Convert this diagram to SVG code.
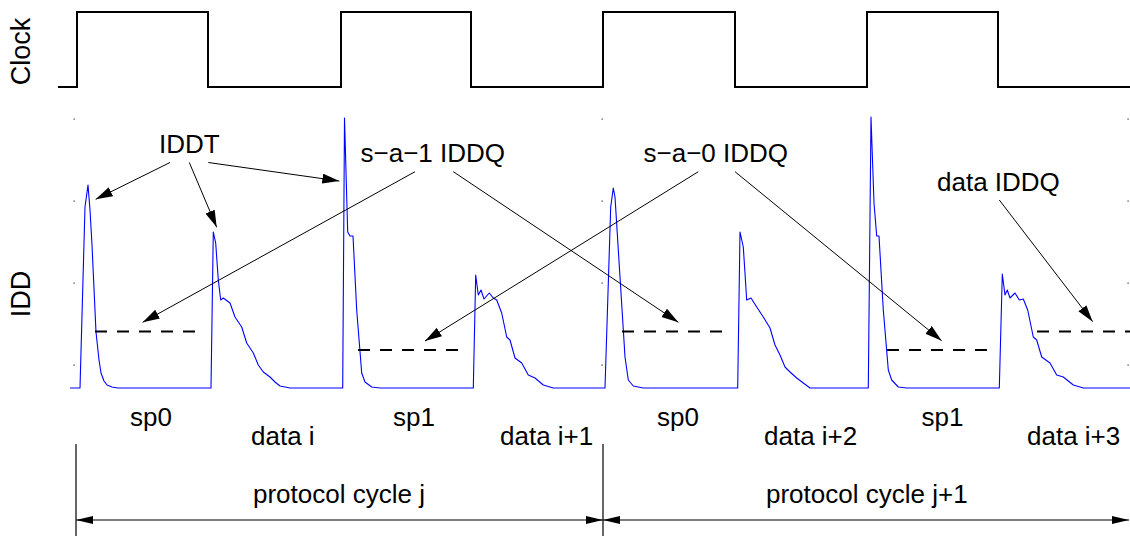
<svg xmlns="http://www.w3.org/2000/svg" width="1130" height="536" viewBox="0 0 1130 536">
<style>
  .t { font-family: "Liberation Sans", Arial, Helvetica, sans-serif; font-size: 26px; fill: #000; }
  .rot { font-family: "Liberation Sans", Arial, Helvetica, sans-serif; font-size: 27px; fill: #000; text-anchor: middle; }
  .clk { fill: none; stroke: #000; stroke-width: 2; }
  .wave { fill: none; stroke: #0000ff; stroke-width: 1.1; stroke-linejoin: round; }
  .lvl { fill: none; stroke: #000; stroke-width: 2; stroke-dasharray: 12 10; }
  .ann { fill: none; stroke: #000; stroke-width: 1; }
  .dim { fill: none; stroke: #000; stroke-width: 1.2; }
  .tick { fill: #333; }
</style>
<defs>
  <marker id="ah" markerUnits="userSpaceOnUse" markerWidth="18" markerHeight="11" refX="17" refY="5" orient="auto">
    <path d="M0,0 L17,5 L0,10 z" fill="#000"/>
  </marker>
  <marker id="dh" markerUnits="userSpaceOnUse" markerWidth="18" markerHeight="9" refX="17" refY="4" orient="auto">
    <path d="M0,0 L17,4 L0,8 z" fill="#000"/>
  </marker>
  <marker id="dhs" markerUnits="userSpaceOnUse" markerWidth="18" markerHeight="9" refX="0" refY="4" orient="auto">
    <path d="M17,0 L0,4 L17,8 z" fill="#000"/>
  </marker>
</defs>

<g id="axis-labels">
  <text class="rot" transform="translate(30,51.5) rotate(-90)">Clock</text>
  <text class="rot" transform="translate(29.5,294) rotate(-90)">IDD</text>
</g>

<g id="clock">
  <path class="clk" d="M58,87 H77 V12 H208 V87 H341 V12 H471 V87 H603 V12 H735 V87 H867 V12 H998 V87 H1130"/>
</g>

<g id="ticks">
  <rect class="tick" x="73.5" y="118.5" width="1.2" height="1.2"/>
  <rect class="tick" x="73.5" y="200.5" width="1.2" height="1.2"/>
  <rect class="tick" x="73.5" y="282.5" width="1.2" height="1.2"/>
  <rect class="tick" x="73.5" y="364.5" width="1.2" height="1.2"/>
  <rect class="tick" x="601.5" y="118.5" width="1.2" height="1.2"/>
  <rect class="tick" x="601.5" y="200.5" width="1.2" height="1.2"/>
  <rect class="tick" x="601.5" y="282.5" width="1.2" height="1.2"/>
  <rect class="tick" x="601.5" y="364.5" width="1.2" height="1.2"/>
  <rect class="tick" x="1127.5" y="118.5" width="1.2" height="1.2"/>
  <rect class="tick" x="1127.5" y="200.5" width="1.2" height="1.2"/>
  <rect class="tick" x="1127.5" y="282.5" width="1.2" height="1.2"/>
  <rect class="tick" x="1127.5" y="364.5" width="1.2" height="1.2"/>
</g>

<g id="idd-waveform">
  <polyline class="wave" points="70,388 80,388 85,207 88,185 90,210 92,245 96,332 99,360 101,373 104,381 107,385 112,387 118,388 211,388 213.3,232 215.7,243 218.3,280 220.7,300 223.3,298 230,303 235,317 241.7,327 246.7,343 253.3,353 258.3,365 263.3,372 270,377 275,382 280,386 290,388 342.7,388 344.5,118 347.7,232 350,236 353,236 356.7,310 361.7,373 365,382 371.7,387 380,388 473.3,388 475.7,275 478.3,295 481,290 484,299 489.3,293 493.3,298 496.7,300 501.7,313 506.7,337 510,340 515,358 521.7,363 528.3,375 535,378 543.3,385 553.3,388 605,388 610.7,207 613.3,188 615,197 620,277 625,357 628.3,380 633.3,386 643.3,388 737.7,388 740,232 743.3,247 746.7,300 751,298 756.7,307 763.3,317 770,328 775,345 780,355 785,367 790,372 796.7,378 803.3,383 810,388 868.3,388 871,117 874,203 876.7,236 879,236 883.3,310 888.3,370 891.7,380 898.3,387 906.7,388 999.3,388 1002.3,274 1005,295 1007.3,290 1010,298 1015,293 1019.3,300 1023.3,299 1027.7,310 1033.3,337 1036.7,340 1041.7,357 1050,363 1056.7,375 1063.3,377 1073.3,385 1083.3,388 1130,388"/>
</g>

<g id="iddq-levels">
  <line id="lvl-sp0-1" class="lvl" x1="95" y1="331.5" x2="197" y2="331.5"/>
  <line id="lvl-sp1-1" class="lvl" x1="358" y1="350" x2="460" y2="350"/>
  <line id="lvl-sp0-2" class="lvl" x1="622" y1="331.5" x2="724" y2="331.5"/>
  <line id="lvl-sp1-2" class="lvl" x1="887" y1="350" x2="989" y2="350"/>
  <line id="lvl-data" class="lvl" x1="1037" y1="331.5" x2="1130" y2="331.5"/>
</g>

<g id="labels">
  <text id="lbl-iddt" class="t" x="159" y="153">IDDT</text>
  <text id="lbl-sa1" class="t" x="360.5" y="161.5">s−a−1 IDDQ</text>
  <text id="lbl-sa0" class="t" x="643.5" y="161.5">s−a−0 IDDQ</text>
  <text id="lbl-data-iddq" class="t" x="937" y="191">data IDDQ</text>
  <text id="lbl-sp0-1" class="t" x="130" y="426">sp0</text>
  <text id="lbl-data-i" class="t" x="251" y="445">data i</text>
  <text id="lbl-sp1-1" class="t" x="393" y="426">sp1</text>
  <text id="lbl-data-i1" class="t" x="500" y="445">data i+1</text>
  <text id="lbl-sp0-2" class="t" x="657" y="426">sp0</text>
  <text id="lbl-data-i2" class="t" x="764" y="445">data i+2</text>
  <text id="lbl-sp1-2" class="t" x="921.5" y="426">sp1</text>
  <text id="lbl-data-i3" class="t" x="1027" y="445">data i+3</text>
  <text id="lbl-cycle-j" class="t" x="253" y="503">protocol cycle j</text>
  <text id="lbl-cycle-j1" class="t" x="766" y="503">protocol cycle j+1</text>
</g>

<g id="connectors">
  <line class="ann" x1="170" y1="162.5" x2="95.7" y2="199.3" marker-end="url(#ah)"/>
  <line class="ann" x1="189.3" y1="162.5" x2="216.7" y2="227.3" marker-end="url(#ah)"/>
  <line class="ann" x1="208.3" y1="162.5" x2="339.3" y2="181" marker-end="url(#ah)"/>
  <line class="ann" x1="415" y1="171.7" x2="142.7" y2="322.3" marker-end="url(#ah)"/>
  <line class="ann" x1="453.3" y1="171.7" x2="678.3" y2="322.3" marker-end="url(#ah)"/>
  <line class="ann" x1="698.3" y1="171.7" x2="425" y2="341" marker-end="url(#ah)"/>
  <line class="ann" x1="735" y1="171.7" x2="941.7" y2="340.7" marker-end="url(#ah)"/>
  <line class="ann" x1="999.3" y1="200" x2="1092.7" y2="321.7" marker-end="url(#ah)"/>
  <line class="dim" x1="76" y1="444" x2="76" y2="536"/>
  <line class="dim" x1="603" y1="444" x2="603" y2="536"/>
  <line class="dim" x1="76" y1="520" x2="603" y2="520" marker-start="url(#dhs)" marker-end="url(#dh)"/>
  <line class="dim" x1="603" y1="520" x2="1129" y2="520" marker-start="url(#dhs)" marker-end="url(#dh)"/>
</g>
</svg>
